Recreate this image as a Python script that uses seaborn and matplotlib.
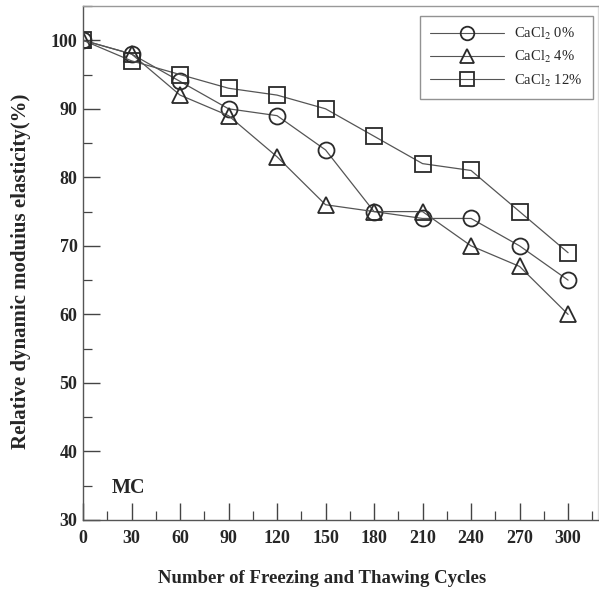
import matplotlib
matplotlib.use("Agg")
import matplotlib.pyplot as plt
import seaborn as sns
import pandas as pd
from matplotlib.ticker import MultipleLocator

cycles = [0, 30, 60, 90, 120, 150, 180, 210, 240, 270, 300]
cacl2_0 = [100, 98, 94, 90, 89, 84, 75, 74, 74, 70, 65]
cacl2_4 = [100, 98, 92, 89, 83, 76, 75, 75, 70, 67, 60]
cacl2_12 = [100, 97, 95, 93, 92, 90, 86, 82, 81, 75, 69]
labels = ["CaCl$_2$ 0%", "CaCl$_2$ 4%", "CaCl$_2$ 12%"]
markers = ["o", "^", "s"]
marker_sizes = [11.5, 11.5, 12]

sns.set_theme(style="ticks")
plt.rcParams["font.family"] = ["Liberation Serif", "DejaVu Serif"]
plt.rcParams["mathtext.fontset"] = "stix"

fig = plt.figure(figsize=(5.99, 5.91), dpi=100)
ax = fig.add_axes([83 / 599, 1 - 520 / 591, (598 - 83) / 599, (520 - 6) / 591])

for vals, lab, mk, ms in zip([cacl2_0, cacl2_4, cacl2_12], labels, markers,
                             marker_sizes):
    df = pd.DataFrame({"cycles": cycles, "value": vals})
    sns.lineplot(data=df, x="cycles", y="value", ax=ax, label=lab,
                 color="#555555", linewidth=0.9, marker=mk, markersize=ms,
                 markerfacecolor="none", markeredgecolor="#2a2a2a",
                 markeredgewidth=1.3)

ax.set_xlim(0, 318.5)
ax.set_ylim(30, 105)
ax.xaxis.set_major_locator(MultipleLocator(30))
ax.xaxis.set_minor_locator(MultipleLocator(15))
ax.yaxis.set_major_locator(MultipleLocator(10))
ax.yaxis.set_minor_locator(MultipleLocator(5))
ax.set_xticks(cycles)
ax.tick_params(which="major", direction="in", length=12, width=1.0,
               color="#444444", labelsize=13, pad=7)
ax.tick_params(which="minor", direction="in", length=6.5, width=0.9,
               color="#444444")
ax.tick_params(axis="y", which="major", pad=4)
for t in ax.get_xticklabels() + ax.get_yticklabels():
    t.set_fontweight("bold")

for side in ["left", "bottom", "top", "right"]:
    ax.spines[side].set_visible(True)
    ax.spines[side].set_color("#555555")
    ax.spines[side].set_linewidth(1.0)
ax.spines["top"].set_color("#999999")
ax.spines["right"].set_color("#dddddd")

ax.set_xlabel("Number of Freezing and Thawing Cycles", fontsize=13.5,
              fontweight="bold")
ax.xaxis.set_label_coords(0.464, -0.097)
ax.set_ylabel("Relative dynamic moduius elasticity(%)", fontsize=15,
              fontweight="bold")
ax.yaxis.set_label_coords(-0.101, 0.483)

ax.text(28, 34.7, "MC", fontsize=14.5, fontweight="bold", ha="center",
        va="center")

leg = ax.legend(loc="upper right", bbox_to_anchor=(0.990, 0.9805),
                borderaxespad=0, fontsize=10.5, handlelength=5.1,
                frameon=True, fancybox=False, edgecolor="#777777",
                borderpad=0.7, labelspacing=0.48, handletextpad=0.7,
                markerscale=0.85)
leg.get_frame().set_linewidth(1.0)
for h in leg.legend_handles:
    h.set_linewidth(0.8)

fig.savefig("out.png", dpi=100)
